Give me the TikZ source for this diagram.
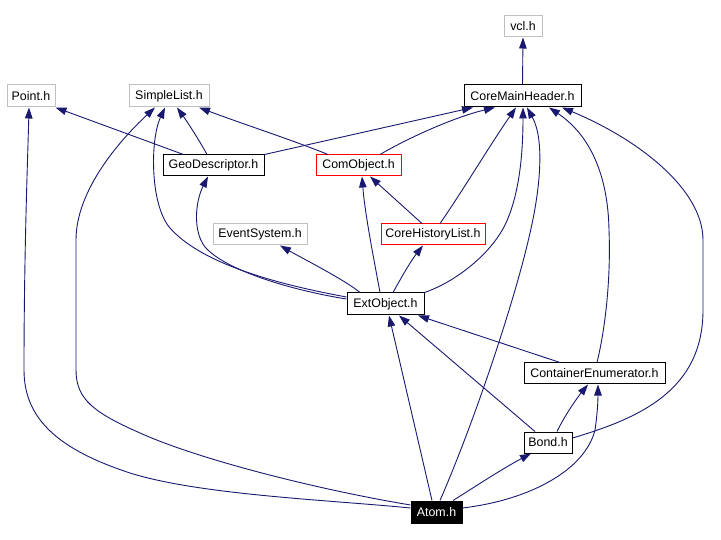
\documentclass[tikz,border=0pt]{standalone}
\usepackage{fontspec}
\setmainfont{Liberation Sans}
\usetikzlibrary{arrows.meta}
\definecolor{edgec}{HTML}{191970}
\definecolor{grayc}{HTML}{BFBFBF}
\begin{document}
\begin{tikzpicture}[x=1pt,y=-1pt,
  box/.style={draw=black,line width=1pt,inner sep=0pt,minimum height=21pt,font=\fontsize{12.4}{14}\selectfont,text=black,fill=white},
  graybox/.style={box,draw=grayc},
  redbox/.style={box,draw=red},
  edge/.style={draw=edgec,line width=0.9pt,-{Triangle[length=11pt,width=7.5pt]},fill=none}]
\useasboundingbox[fill=white] (0,0) rectangle (721,540);
\node[graybox,minimum width=38pt] (vcl) at (523,26.5) {vcl.h};
\node[box,minimum width=117pt,minimum height=22pt] (cmh) at (522.5,96) {CoreMainHeader.h};
\node[graybox,minimum width=48pt,minimum height=22pt] (point) at (31,96) {Point.h};
\node[graybox,minimum width=80pt,minimum height=22pt] (sl) at (169,96) {SimpleList.h};
\node[box,minimum width=101pt] (geo) at (213.5,165.5) {GeoDescriptor.h};
\node[redbox,minimum width=85pt] (com) at (358.5,165.5) {ComObject.h};
\node[graybox,minimum width=94pt] (ev) at (260,234.5) {EventSystem.h};
\node[redbox,minimum width=104pt] (chl) at (433,234.5) {CoreHistoryList.h};
\node[box,minimum width=77pt,minimum height=22pt] (ext) at (385.5,304) {ExtObject.h};
\node[box,minimum width=141pt] (ce) at (594.5,373.5) {ContainerEnumerator.h};
\node[box,minimum width=48pt] (bond) at (548,442.5) {Bond.h};
\node[box,fill=black,text=white,minimum width=51pt,minimum height=22pt] (atom) at (436.5,512) {Atom.h};

\draw[edge] (cmh.north) -- (vcl.south);
\draw[edge] ([xshift=-30pt]geo.north) -- (point.south east);
\draw[edge] ([xshift=-6.5pt]geo.north) .. controls (198,138) and (186,120) .. ([xshift=8pt]sl.south);
\draw[edge] (geo.north east) -- ([xshift=-49.5pt]cmh.south);
\draw[edge] ([xshift=-30.5pt]com.north) .. controls (295,141) and (240,123) .. ([xshift=30pt]sl.south);
\draw[edge] ([xshift=21.5pt]com.north) .. controls (410,137) and (455,117) .. ([xshift=-27.5pt]cmh.south);
\draw[edge] ([xshift=7pt]chl.north) .. controls (460,195) and (490,145) .. ([xshift=-6.5pt]cmh.south);
\draw[edge] ([xshift=-11pt]chl.north) -- ([xshift=11.5pt]com.south);
\draw[edge] ([yshift=7pt]ext.west) .. controls (270,283) and (200,262) .. (170,228) .. controls (150,205) and (150,140) .. ([xshift=-4pt]sl.south);
\draw[edge] ([yshift=5pt]ext.west) .. controls (290,290) and (225,270) .. (205,247) .. controls (192,230) and (196,200) .. ([xshift=-5.5pt]geo.south);
\draw[edge] ([xshift=-25.5pt]ext.north) .. controls (345,280) and (300,257) .. ([xshift=20pt]ev.south);
\draw[edge] ([xshift=-5.5pt]ext.north) .. controls (375,265) and (365,215) .. ([xshift=3.5pt]com.south);
\draw[edge] ([xshift=7.5pt]ext.north) .. controls (400,280) and (410,262) .. ([xshift=-10pt]chl.south);
\draw[edge] (ext.north east) .. controls (455,282) and (490,255) .. (505,225) .. controls (518,198) and (523,160) .. ([xshift=0.5pt]cmh.south);
\draw[edge] ([xshift=-34.5pt]ce.north) -- ([xshift=32.5pt]ext.south);
\draw[edge] ([xshift=2.5pt]ce.north) .. controls (605,330) and (611,280) .. (609,230) .. controls (608,175) and (590,135) .. ([xshift=26.5pt]cmh.south);
\draw[edge] ([xshift=-13pt]bond.north) -- ([xshift=13.5pt]ext.south);
\draw[edge] ([xshift=9pt]bond.north) .. controls (565,415) and (577,398) .. ([xshift=-6.5pt]ce.south);
\draw[edge] ([yshift=4.5pt]bond.east) .. controls (640,418) and (703,390) .. (703,310) -- (703,240) .. controls (703,190) and (640,140) .. ([xshift=39.5pt]cmh.south);
\draw[edge] ([yshift=4pt]atom.west) .. controls (330,500) and (200,495) .. (130,473) .. controls (60,450) and (24,420) .. (24,370) .. controls (24,250) and (28,150) .. ([xshift=-2pt]point.south);
\draw[edge] ([yshift=7pt]atom.west) .. controls (320,490) and (200,460) .. (140,433) .. controls (95,413) and (76,400) .. (76,370) -- (76,240) .. controls (76,190) and (120,140) .. ([xshift=-14pt]sl.south);
\draw[edge] ([xshift=-4.5pt]atom.north) -- ([xshift=3.5pt]ext.south);
\draw[edge] ([xshift=3.5pt]atom.north) .. controls (475,420) and (515,300) .. (530,233) .. controls (540,190) and (545,140) .. ([xshift=4.5pt]cmh.south);
\draw[edge] ([xshift=16.5pt]atom.north) .. controls (470,490) and (500,470) .. ([xshift=-17pt]bond.south);
\draw[edge] ([yshift=4pt]atom.east) .. controls (530,500) and (585,470) .. (595,430) .. controls (598,410) and (598,395) .. ([xshift=3.5pt]ce.south);
\end{tikzpicture}
\end{document}
